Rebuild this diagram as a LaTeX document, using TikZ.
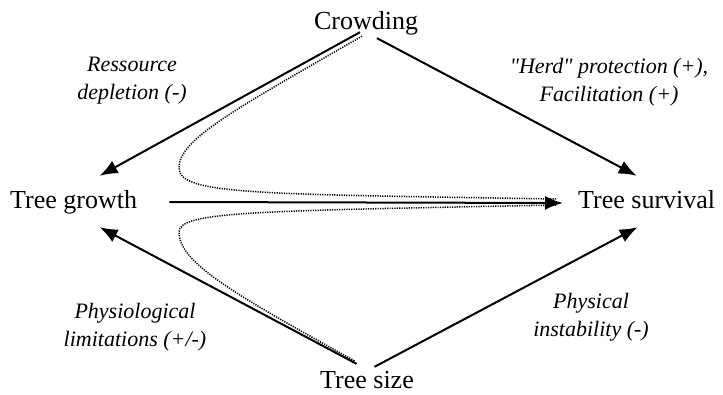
\documentclass[tikz,border=0pt]{standalone}
\usepackage{fontspec}
\newfontfamily\lserif{Liberation Serif}
\usetikzlibrary{arrows.meta,calc}
\begin{document}
\begin{tikzpicture}[x=1pt,y=1pt,
  varnode/.style={inner sep=0pt,text height=18pt,text depth=6pt,anchor=base west,font=\lserif\fontsize{26}{30}\selectfont},
  lbl/.style={inner sep=0pt,align=center,font=\lserif\itshape\fontsize{22}{28}\selectfont},
  arr/.style={line width=2pt,-{Latex[length=18pt,width=14pt]}},
  dots/.style={line width=1.5pt,dash pattern=on 1.2pt off 1.2pt}]
\useasboundingbox (0,0) rectangle (723,394);
\node[varnode,anchor=base] (crowd) at (366,364) {Crowding};
\node[varnode] (growth) at (10,185) {Tree growth};
\node[varnode] (surv) at (578,185) {Tree survival};
\node[varnode] (size) at (320,6) {Tree size};
% dotted curves
\draw[dots] ($(crowd.south)+(-4,0)$) .. controls (230,282) and (179,254) .. (179,226)
  .. controls (179,199) and (260,200) .. ($(surv.west)+(-22,4)$);
\draw[dots] ($(size.north)+(-12.5,9)$) .. controls (230,102) and (179,132) .. (179,162)
  .. controls (179,183) and (260,183) .. ($(surv.west)+(-22,-2)$);
% arrows
\draw[arr] ($(crowd.south)+(-6,4)$) -- ($(growth.north)+(26,15)$);
\draw[arr] ($(crowd.south)+(11,-2)$) -- ($(surv.north)+(-10,15)$);
\draw[arr] ($(growth.east)+(32,1)$) -- ($(surv.west)+(-15,0)$);
\draw[arr] ($(size.north)+(-10.5,6)$) -- ($(growth.south)+(26,-12)$);
\draw[arr] ($(size.north)+(7.5,3)$) -- ($(surv.south)+(-9,-12)$);
% labels
\node[lbl] (l1) at (132,313) {Ressource\\depletion (-)};
\node[lbl] (l2) at (609,312) {"Herd" protection (+),\\Facilitation (+)};
\node[lbl] (l3) at (135,67) {Physiological\\limitations (+/-)};
\node[lbl] (l4) at (591,77) {Physical\\instability (-)};
\end{tikzpicture}
\end{document}
